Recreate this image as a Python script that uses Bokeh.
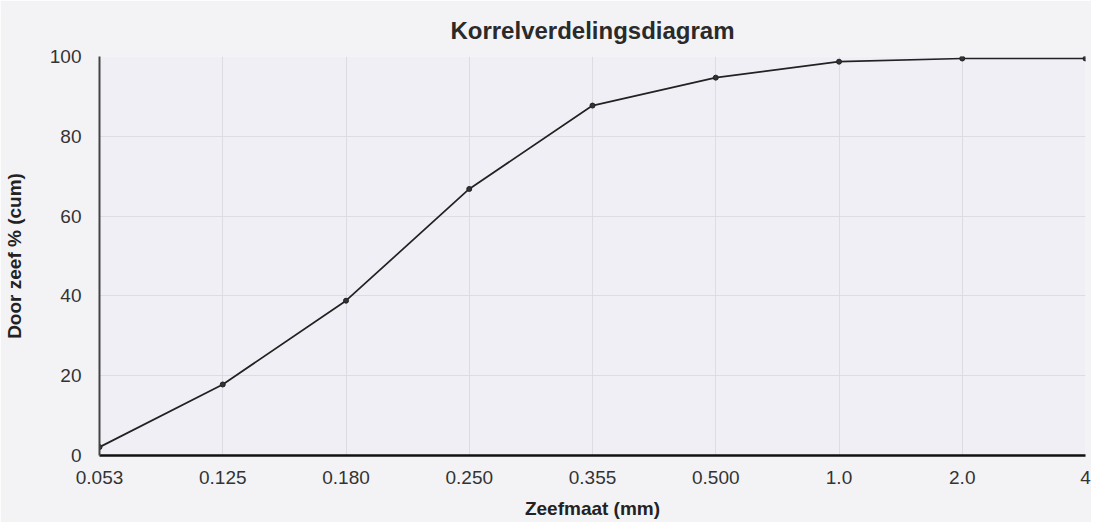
from bokeh.plotting import figure
from bokeh.models import Range1d, FixedTicker
from bokeh.embed import file_html
from bokeh.resources import INLINE

sieve_sizes = ["0.053", "0.125", "0.180", "0.250", "0.355", "0.500", "1.0", "2.0", "4"]
passing_pct = [2.1, 17.8, 38.8, 66.8, 87.7, 94.7, 98.7, 99.5, 99.5]
y_ticks = [0, 20, 40, 60, 80, 100]

xs = list(range(len(sieve_sizes)))
FONT = "Liberation Sans"

p = figure(width=1091, height=522, output_backend="svg", toolbar_location=None,
           x_range=Range1d(0, len(sieve_sizes) - 1), y_range=Range1d(0, 100),
           title="Korrelverdelingsdiagram",
           min_border_left=92, min_border_right=6, min_border_top=56, min_border_bottom=67)

p.title.align = "center"
p.title.vertical_align = "top"
p.title.text_font = FONT
p.title.text_font_size = "24px"
p.title.text_font_style = "bold"
p.title.text_color = "#2a2a2a"
p.title.offset = 0
p.title.standoff = 22

p.background_fill_color = "#f0eff5"
p.border_fill_color = "#f3f3f6"
p.outline_line_color = None

p.line(xs, passing_pct, line_color="#222222", line_width=1.7)
p.scatter(xs, passing_pct, size=5, fill_color="#333333", line_color="#222222")

p.xaxis.ticker = FixedTicker(ticks=xs)
p.xaxis.major_label_overrides = {i: s for i, s in enumerate(sieve_sizes)}
p.yaxis.ticker = FixedTicker(ticks=y_ticks)

p.xaxis.axis_label = "Zeefmaat (mm)"
p.yaxis.axis_label = "Door zeef % (cum)"
for ax in (p.xaxis[0], p.yaxis[0]):
    ax.axis_label_text_font = FONT
    ax.axis_label_text_font_size = "19px"
    ax.axis_label_text_font_style = "bold"
    ax.axis_label_text_color = "#222222"
    ax.major_label_text_font = FONT
    ax.major_label_text_font_size = "19px"
    ax.major_label_text_color = "#333333"
    ax.major_tick_line_color = None
    ax.minor_tick_line_color = None

p.xaxis.axis_line_color = "#111111"
p.xaxis.axis_line_width = 2.5
p.xaxis.major_label_standoff = 9
p.xaxis.axis_label_standoff = 11
p.yaxis.axis_line_color = "#444444"
p.yaxis.axis_line_width = 2
p.yaxis.major_label_standoff = 12
p.yaxis.axis_label_standoff = 22

p.xgrid.grid_line_color = "#dcdce2"
p.ygrid.grid_line_color = "#dcdce2"
p.xgrid.ticker = FixedTicker(ticks=xs)
p.ygrid.ticker = FixedTicker(ticks=y_ticks)

open("out.html", "w").write(file_html(p, INLINE))
